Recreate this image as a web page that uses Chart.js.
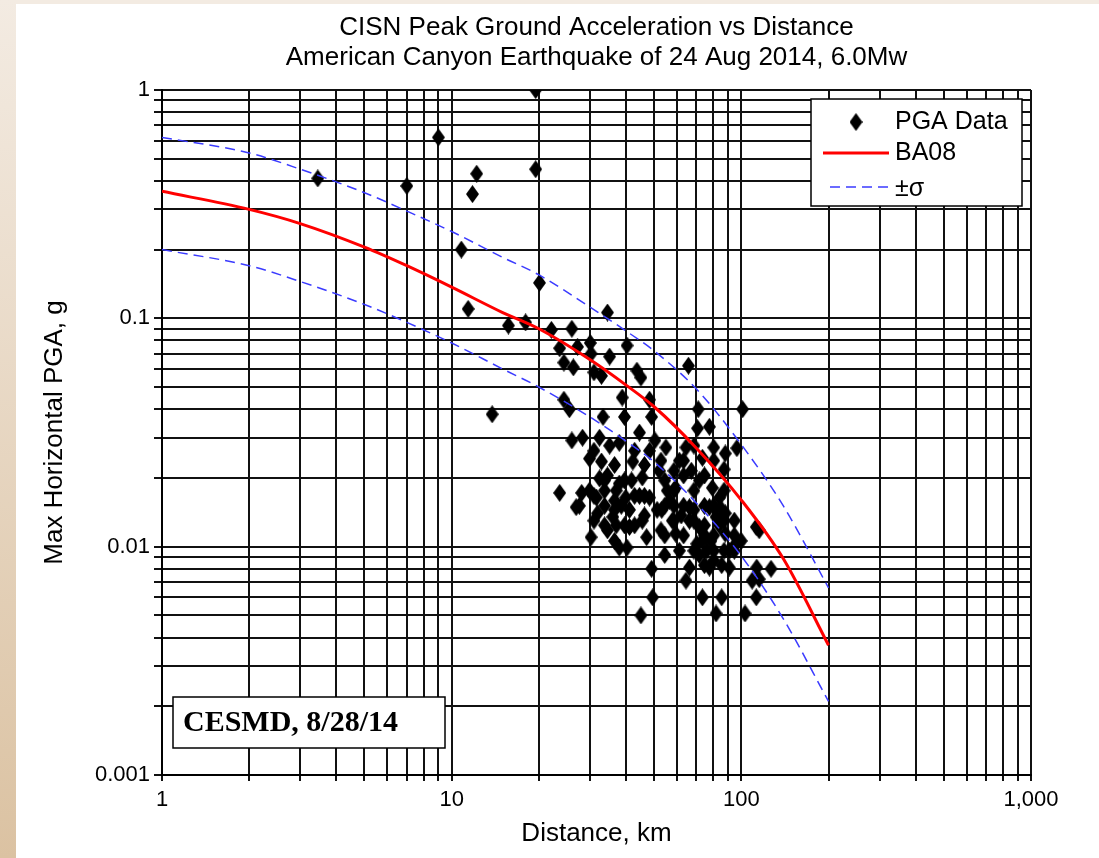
<!DOCTYPE html>
<html>
<head>
<meta charset="utf-8">
<script src="https://cdn.jsdelivr.net/npm/chart.js@4.4.1/dist/chart.umd.min.js"></script>
<style>
  html, body { margin: 0; padding: 0; }
  body {
    width: 1099px; height: 858px; overflow: hidden;
    background:
      linear-gradient(to bottom, #f3ebe2, #dbc2a2) left top / 16px 100% no-repeat,
      linear-gradient(to right, #f3ebe2, #f3ebe2) left top / 100% 4px no-repeat,
      #fff;
  }
</style>
</head>
<body>
<canvas id="chart" width="1099" height="858"></canvas>
<script>
// tick labels (decades only)
const xDecades = [1, 10, 100, 1000];
const xTickLabels = ['1', '10', '100', '1,000'];
const yDecades = [0.001, 0.01, 0.1, 1];
const yTickLabels = ['0.001', '0.01', '0.1', '1'];

// BA08 median curve and +/- sigma, km vs g
const curveDist = [1, 2, 3, 5, 7, 10, 15, 20, 30, 40, 50, 70, 100, 140, 200];
const ba08 = [0.36, 0.30, 0.26, 0.205, 0.17, 0.137, 0.106, 0.090, 0.066, 0.051, 0.041, 0.027, 0.016, 0.0088, 0.0037];
const sigmaHi = [0.62, 0.53, 0.45, 0.355, 0.295, 0.24, 0.185, 0.155, 0.112, 0.088, 0.072, 0.049, 0.028, 0.015, 0.0066];
const sigmaLo = [0.20, 0.17, 0.145, 0.115, 0.096, 0.078, 0.060, 0.050, 0.037, 0.029, 0.0235, 0.0155, 0.0091, 0.0048, 0.0021];

// station PGA data
const pgaDist = [
  3.45, 7.0, 9.0, 12.2, 11.8, 19.5, 19.5, 10.8, 20.1, 11.4, 15.7, 18.0, 22.1, 26.0, 13.8, 101, 34.5,
  23.6, 27.2, 30.1, 30.3, 35.1, 40.3, 24.4, 26.3, 31.0, 32.9, 43.6, 45.0, 38.8, 48.2, 24.4, 25.5,
  33.3, 39.5, 49.0, 44.5, 26.0, 28.3, 32.4, 35.1, 37.9, 29.9, 32.9, 42.2, 48.2, 32.4, 34.5, 37.9,
  41.8, 45.5, 23.6, 28.1, 27.6, 31.6, 37.0, 39.9, 31.9, 36.0, 41.1, 48.2, 51.2,
  65.7, 71.0, 77.6, 70.6, 80.3, 88, 96.5, 54.9, 64.4, 61.1, 73.4, 87.2, 67.2, 54.4, 59.3, 71.6,
  79.4, 56.5, 66.2, 77.6, 84.0, 88, 94.6, 112.6, 57.8, 71.6, 53.1,
  26.9, 31.0, 30.3, 34.5, 37.9, 40.3, 37.0, 41.1, 45.5, 47.1, 54.4, 49.0, 49.4, 45.0, 59.3, 61.1,
  66.2, 64.4, 66.2, 70.2, 75.9, 77.6, 73.4, 81.8, 85.5, 88, 90.9, 99.9, 103, 109, 113, 112.6,
  126.6, 115.3, 115.3, 81.8, 73.4,
  52.8, 55.5, 58.5, 52.8, 62, 33.7, 36.5, 68.6, 74.6, 78.5, 84, 90.9, 80.3, 94.6, 71.6, 85,
  54.4, 50.3, 52.1, 29.9, 44.5, 38.5, 46.3, 33.7,
  31.0, 36.5, 42.8, 33.7, 39.5, 46.3, 31.0, 36.5, 42.8, 39.5, 33.7, 46.3, 42.8, 36.5,
  63.2, 68.6, 74.6, 80.3, 58.5, 63.2, 68.6, 74.6, 80.3, 87.2, 63.2, 68.6, 74.6, 80.3, 87.2, 94.6,
  58.5, 63.2, 68.6, 80.3, 87.2, 94.6, 74.6, 85.5, 54.4, 58.5
];
const pgaVal = [
  0.41, 0.38, 0.62, 0.43, 0.35, 1.0, 0.45, 0.20, 0.143, 0.11, 0.093, 0.096, 0.089, 0.090, 0.038, 0.040, 0.106,
  0.074, 0.075, 0.078, 0.070, 0.068, 0.076, 0.064, 0.061, 0.058, 0.056, 0.059, 0.055, 0.045, 0.044, 0.044, 0.040,
  0.037, 0.037, 0.037, 0.0316, 0.0292, 0.030, 0.030, 0.0277, 0.0285, 0.0243, 0.0236, 0.0236, 0.0263, 0.0199, 0.0205, 0.0189,
  0.0195, 0.0201, 0.0172, 0.0172, 0.0151, 0.0164, 0.0176, 0.0164, 0.0140, 0.0135, 0.0145, 0.0164, 0.0145,
  0.062, 0.040, 0.0335, 0.033, 0.0272, 0.0256, 0.027, 0.0272, 0.0272, 0.0238, 0.0245, 0.0218, 0.0215, 0.0195, 0.0181, 0.0195,
  0.0181, 0.0159, 0.0149, 0.0149, 0.0164, 0.0140, 0.0130, 0.0122, 0.0130, 0.0122, 0.0145,
  0.0149, 0.0130, 0.0110, 0.0118, 0.0099, 0.0099, 0.0124, 0.0122, 0.0130, 0.0110, 0.0092, 0.0080, 0.0060, 0.0050, 0.0114, 0.0096,
  0.0130, 0.0071, 0.0081, 0.0103, 0.0096, 0.0081, 0.0060, 0.0051, 0.0060, 0.0114, 0.0081, 0.0106, 0.0051, 0.0071, 0.0081, 0.0060,
  0.0080, 0.0118, 0.0072, 0.0135, 0.0106,
  0.0238, 0.0176, 0.0215, 0.0118, 0.0137, 0.0151, 0.0159, 0.0145, 0.0124, 0.0106, 0.0124, 0.0096, 0.0087, 0.0101, 0.0092, 0.0147,
  0.0151, 0.0292, 0.0215, 0.0176, 0.0167, 0.0151, 0.0137, 0.0176,
  0.0263, 0.0228, 0.0263, 0.0195, 0.0195, 0.0228, 0.0167, 0.0145, 0.0167, 0.0124, 0.0124, 0.0167, 0.0124, 0.0106,
  0.0238, 0.0277, 0.0205, 0.0238, 0.0176, 0.0205, 0.0176, 0.0151, 0.0151, 0.0176, 0.0151, 0.0130, 0.0112, 0.0112, 0.0130, 0.0112,
  0.0130, 0.0112, 0.0096, 0.0096, 0.0096, 0.0096, 0.0083, 0.0083, 0.0112, 0.0151
];

const FONT = '"Liberation Sans", Arial, sans-serif';

// tall black diamond marker
const diamond = document.createElement('canvas');
diamond.width = 13;
diamond.height = 18;
const dctx = diamond.getContext('2d');
dctx.fillStyle = '#000';
dctx.beginPath();
dctx.moveTo(6.5, 0);
dctx.lineTo(13, 9);
dctx.lineTo(6.5, 18);
dctx.lineTo(0, 9);
dctx.closePath();
dctx.fill();

function decadeTicks(min, max) {
  const out = [];
  const e0 = Math.round(Math.log10(min));
  const e1 = Math.round(Math.log10(max));
  for (let e = e0; e < e1; e++) {
    for (let m = 1; m < 10; m++) {
      out.push({ value: parseFloat((m * Math.pow(10, e)).toPrecision(6)) });
    }
  }
  out.push({ value: max });
  return out;
}

const curve = (arr) => curveDist.map((d, i) => ({ x: d, y: arr[i] }));

const overlay = {
  id: 'overlay',
  afterDraw(chart) {
    const ctx = chart.ctx;
    const ca = chart.chartArea;
    ctx.save();

    // legend
    const lx = ca.right - 220, ly = ca.top + 9, lw = 211, lh = 107;
    ctx.fillStyle = '#fff';
    ctx.fillRect(lx, ly, lw, lh);
    ctx.strokeStyle = '#000';
    ctx.lineWidth = 1.5;
    ctx.strokeRect(lx, ly, lw, lh);

    ctx.drawImage(diamond, lx + 45 - 6.5, ly + 23 - 9);
    ctx.strokeStyle = '#ff0000';
    ctx.lineWidth = 3;
    ctx.beginPath();
    ctx.moveTo(lx + 12, ly + 54);
    ctx.lineTo(lx + 78, ly + 54);
    ctx.stroke();
    ctx.strokeStyle = '#3b3bff';
    ctx.lineWidth = 1.5;
    ctx.setLineDash([10, 6]);
    ctx.beginPath();
    ctx.moveTo(lx + 19, ly + 88);
    ctx.lineTo(lx + 78, ly + 88);
    ctx.stroke();
    ctx.setLineDash([]);

    ctx.fillStyle = '#000';
    ctx.font = '25px ' + FONT;
    ctx.textBaseline = 'middle';
    ctx.textAlign = 'left';
    ctx.fillText('PGA Data', lx + 84, ly + 23);
    ctx.fillText('BA08', lx + 84, ly + 54);
    ctx.fillText('\u00b1\u03c3', lx + 84, ly + 90);

    // source stamp
    const bx = ca.left + 11, by = ca.bottom - 78, bw = 272, bh = 51;
    ctx.fillStyle = '#fff';
    ctx.fillRect(bx, by, bw, bh);
    ctx.strokeStyle = '#000';
    ctx.lineWidth = 1.5;
    ctx.strokeRect(bx, by, bw, bh);
    ctx.fillStyle = '#000';
    ctx.font = 'bold 30px "Liberation Serif", "Times New Roman", serif';
    ctx.fillText('CESMD, 8/28/14', bx + 10, by + 26);

    ctx.restore();
  }
};

const gridOpts = {
  color: '#111',
  lineWidth: 2,
  tickColor: '#111',
  tickLength: 8
};

new Chart(document.getElementById('chart'), {
  type: 'scatter',
  data: {
    datasets: [
      {
        label: 'BA08',
        type: 'line',
        data: curve(ba08),
        borderColor: '#ff0000',
        borderWidth: 3,
        pointRadius: 0,
        cubicInterpolationMode: 'monotone',
        fill: false,
        order: 0
      },
      {
        label: '+sigma',
        type: 'line',
        data: curve(sigmaHi),
        borderColor: '#3b3bff',
        borderWidth: 1.5,
        borderDash: [10, 6],
        pointRadius: 0,
        cubicInterpolationMode: 'monotone',
        fill: false,
        order: 0
      },
      {
        label: '-sigma',
        type: 'line',
        data: curve(sigmaLo),
        borderColor: '#3b3bff',
        borderWidth: 1.5,
        borderDash: [10, 6],
        pointRadius: 0,
        cubicInterpolationMode: 'monotone',
        fill: false,
        order: 0
      },
      {
        label: 'PGA Data',
        data: pgaDist.map((d, i) => ({ x: d, y: pgaVal[i] })),
        pointStyle: diamond,
        pointRadius: 7,
        order: 1
      }
    ]
  },
  options: {
    responsive: false,
    animation: false,
    devicePixelRatio: 1,
    layout: { padding: { left: 39, right: 68, top: 0, bottom: 9 } },
    plugins: {
      legend: { display: false },
      tooltip: { enabled: false },
      title: {
        display: true,
        fullSize: false,
        text: ['CISN Peak Ground Acceleration vs Distance', 'American Canyon Earthquake of 24 Aug 2014, 6.0Mw'],
        color: '#000',
        font: { family: FONT, size: 26, weight: 'normal', lineHeight: 1.154 },
        padding: { top: 13, bottom: 17 }
      }
    },
    scales: {
      x: {
        type: 'logarithmic',
        min: 1,
        max: 1000,
        afterBuildTicks: (scale) => { scale.ticks = decadeTicks(scale.min, scale.max); },
        afterFit: (scale) => { scale.height = 74; },
        grid: Object.assign({}, gridOpts, { tickLength: 6 }),
        border: { display: true, color: '#000', width: 2 },
        ticks: {
          autoSkip: false,
          maxRotation: 0,
          padding: 6,
          color: '#000',
          font: { family: FONT, size: 22 },
          callback: (v) => { const i = xDecades.indexOf(v); return i >= 0 ? xTickLabels[i] : ''; }
        },
        title: {
          display: true,
          text: 'Distance, km',
          color: '#000',
          padding: 0,
          font: { family: FONT, size: 26 }
        }
      },
      y: {
        type: 'logarithmic',
        min: 0.001,
        max: 1,
        afterBuildTicks: (scale) => { scale.ticks = decadeTicks(scale.min, scale.max); },
        afterFit: (scale) => { scale.width = 123; },
        grid: gridOpts,
        border: { display: true, color: '#000', width: 2 },
        ticks: {
          autoSkip: false,
          padding: 4,
          color: '#000',
          font: { family: FONT, size: 22 },
          callback: (v) => { const i = yDecades.indexOf(v); return i >= 0 ? yTickLabels[i] : ''; }
        },
        title: {
          display: true,
          text: 'Max Horizontal PGA, g',
          color: '#000',
          padding: 0,
          font: { family: FONT, size: 26 }
        }
      }
    }
  },
  plugins: [overlay]
});
</script>
</body>
</html>
